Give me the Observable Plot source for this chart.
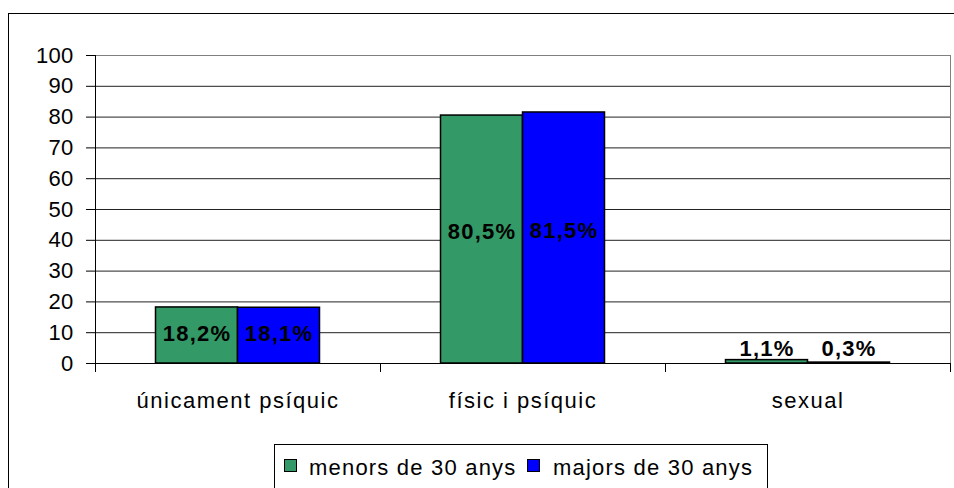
<!DOCTYPE html>
<html>
<head>
<meta charset="utf-8">
<script src="https://cdn.jsdelivr.net/npm/d3@7"></script>
<script src="https://cdn.jsdelivr.net/npm/@observablehq/plot@0.6"></script>
<style>
  html, body { margin: 0; padding: 0; background: #fff; }
  #page { position: relative; width: 954px; height: 488px; overflow: hidden; background: #fff;
          font-family: "Liberation Sans", Arial, sans-serif; color: #000; }
  #border { position: absolute; left: 8px; top: 13px; width: 1000px; height: 600px; border: 1px solid #000; }
  #chart { position: absolute; left: 0; top: 0; }
  #chart svg text { letter-spacing: 0.3px; font-size: 22px; }
  #chart svg text.cat { letter-spacing: 1.5px; font-size: 22px; }
  #chart svg text.val { letter-spacing: 1.2px; font-size: 22px; }
  #legend { position: absolute; left: 274px; top: 444px; width: 492px; height: 100px; border: 1px solid #000; background: #fff; }
  .sw { position: absolute; top: 14px; width: 13px; height: 13px; box-sizing: border-box; border: 1px solid #000; }
  .lt { position: absolute; top: 12px; font-size: 22px; line-height: 22px; letter-spacing: 1.2px; white-space: nowrap; }
</style>
</head>
<body>
<div id="page">
  <div id="border"></div>
  <div id="chart"></div>
  <div id="legend"></div>
</div>
<script>
const categories = ["únicament psíquic", "físic i psíquic", "sexual"];
const series = ["menors de 30 anys", "majors de 30 anys"];
const menors = [18.2, 80.5, 1.1];
const majors = [18.1, 81.5, 0.3];
const yTicks = [0, 10, 20, 30, 40, 50, 60, 70, 80, 90, 100];
const colors = ["#339966", "#0000FF"];

const W = 954, H = 420;
const mL = 95, mR = 4, mT = 55, mB = 57;
const bw = (W - mL - mR) / categories.length;
const barW = 82;
const outerInset = (bw - 2 * barW) / 2;

const dataM = categories.map((c, i) => ({cat: c, v: menors[i]}));
const dataJ = categories.map((c, i) => ({cat: c, v: majors[i]}));
const fmt = v => v.toFixed(1).replace(".", ",") + "%";
const labelY = d => Math.max(d.v * 0.53, 4.7);

const chart = Plot.plot({
  width: W, height: H,
  marginLeft: mL, marginRight: mR, marginTop: mT, marginBottom: mB,
  style: {fontFamily: "Liberation Sans, Arial, sans-serif", fontSize: "22px", color: "#000", background: "transparent"},
  x: {domain: categories, padding: 0, axis: null},
  y: {domain: [0, 100], ticks: yTicks, tickSize: 9, tickPadding: 13, label: null, tickFormat: d => String(d)},
  marks: [
    Plot.ruleY(yTicks.filter(t => t > 0 && t < 100), {stroke: "#222", strokeWidth: 1}),
    Plot.ruleY([100], {stroke: "#808080", strokeWidth: 1}),
    Plot.ruleX([categories[categories.length - 1]], {x: d => d, dx: bw / 2, y1: 0, y2: 100, stroke: "#808080"}),
    Plot.barY(dataM, {x: "cat", y: "v", fill: colors[0], stroke: "#000", strokeWidth: 1.5,
      insetLeft: outerInset, insetRight: outerInset + barW}),
    Plot.barY(dataJ, {x: "cat", y: "v", fill: colors[1], stroke: "#000", strokeWidth: 1.5,
      insetLeft: outerInset + barW, insetRight: outerInset}),
    Plot.ruleY([0], {stroke: "#000", strokeWidth: 1}),
    Plot.ruleX([categories[0]], {x: d => d, dx: -bw / 2, y1: 0, y2: 100, stroke: "#000"}),
    Plot.ruleX(categories, {x: d => d, dx: -bw / 2, y1: 0, y2: 0, insetBottom: -9, stroke: "#000"}),
    Plot.ruleX([categories[categories.length - 1]], {x: d => d, dx: bw / 2, y1: 0, y2: 0, insetBottom: -9, stroke: "#000"}),
    Plot.text(dataM, {x: "cat", y: labelY, dx: -barW / 2, text: d => fmt(d.v), fontWeight: "bold", fontSize: 22, fill: "#000"}),
    Plot.text(dataJ, {x: "cat", y: labelY, dx: barW / 2, text: d => fmt(d.v), fontWeight: "bold", fontSize: 22, fill: "#000"}),
    Plot.text(categories, {x: d => d, y: 0, dy: 37, text: d => d, fontSize: 22, fill: "#000"})
  ]
});
document.getElementById("chart").appendChild(chart);
d3.select(chart).selectAll("text").each(function() {
  const t = this.textContent;
  if (categories.includes(t)) d3.select(this).attr("class", "cat");
  else if (/%$/.test(t)) d3.select(this).attr("class", "val");
});

const legend = d3.select("#legend");
const swLeft = [9, 252];
const txLeft = [34, 278];
series.forEach((s, i) => {
  legend.append("div").attr("class", "sw").style("left", swLeft[i] + "px").style("background", colors[i]);
  legend.append("div").attr("class", "lt").style("left", txLeft[i] + "px").text(s);
});
</script>
</body>
</html>
